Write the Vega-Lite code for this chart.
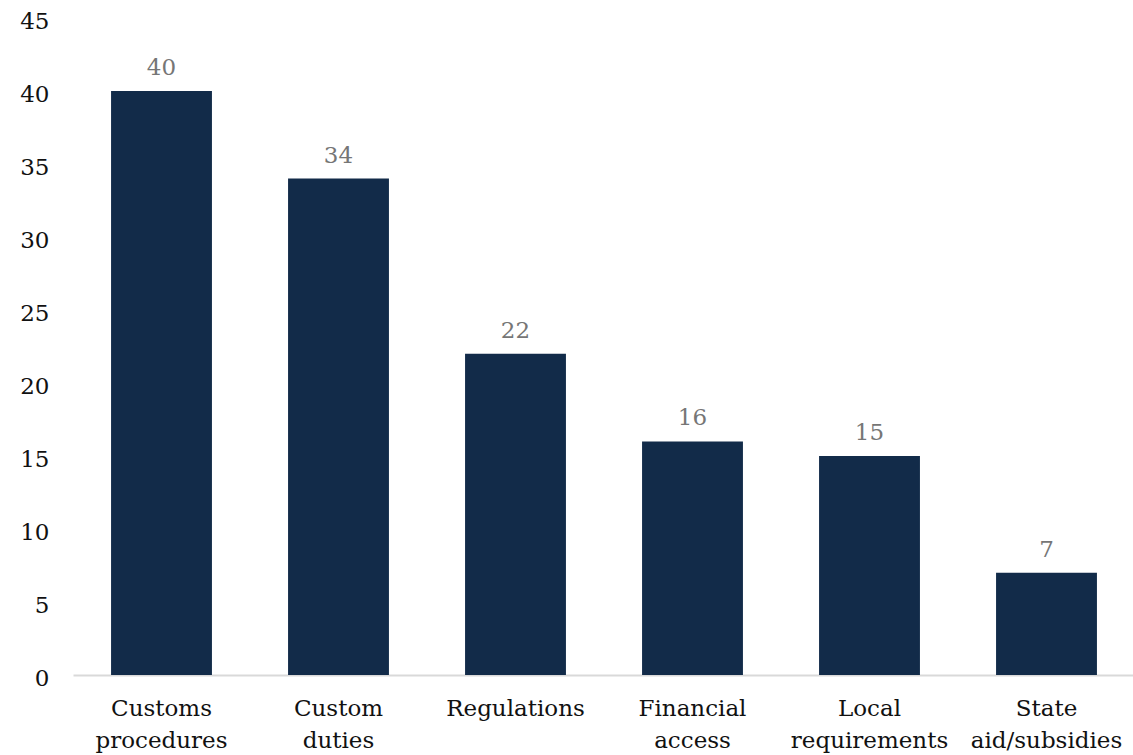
{
  "$schema": "https://vega.github.io/schema/vega-lite/v6.json",
  "width": 1062,
  "height": 657,
  "autosize": "none",
  "padding": {"left": 73, "top": 18, "right": 0, "bottom": 80},
  "background": "white",
  "data": {"values": [
    {"category": "Customs procedures", "value": 40},
    {"category": "Custom duties", "value": 34},
    {"category": "Regulations", "value": 22},
    {"category": "Financial access", "value": 16},
    {"category": "Local requirements", "value": 15},
    {"category": "State aid/subsidies", "value": 7}
  ]},
  "config": {"view": {"stroke": null}, "font": "DejaVu Serif"},
  "encoding": {
    "x": {"field": "category", "type": "nominal", "sort": null,
      "scale": {"paddingInner": 0.43, "paddingOuter": 0.215},
      "axis": {"title": null, "labelAngle": 0, "labelExpr": "split(datum.label, ' ')", "labelFontSize": 23, "labelColor": "#111", "labelLineHeight": 32, "labelPadding": 22, "ticks": false, "domainColor": "#d9d9d9", "domainWidth": 2, "labelFont": "DejaVu Serif"}},
    "y": {"field": "value", "type": "quantitative",
      "scale": {"domain": [0, 45]},
      "axis": {"title": null, "values": [0,5,10,15,20,25,30,35,40,45], "grid": false, "domain": false, "ticks": false, "labelFontSize": 23, "labelColor": "#111", "labelPadding": 24, "labelOffset": 3, "labelFont": "DejaVu Serif"}}
  },
  "layer": [
    {"mark": {"type": "bar", "color": "#122b49"}},
    {"mark": {"type": "text", "dy": -23, "fontSize": 23, "color": "#767676", "font": "DejaVu Serif"},
     "encoding": {"text": {"field": "value", "type": "quantitative"}}}
  ]
}
